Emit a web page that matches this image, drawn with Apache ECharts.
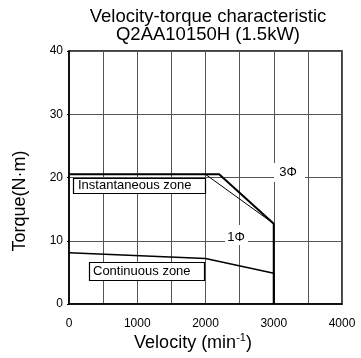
<!DOCTYPE html>
<html><head><meta charset="utf-8">
<script src="https://cdn.jsdelivr.net/npm/echarts@6/dist/echarts.min.js"></script>
<style>html,body{margin:0;padding:0;background:#fff}#c{width:361px;height:358px}</style>
</head><body><div id="c"></div>
<script>
const xTicks = [0, 1000, 2000, 3000, 4000];
const yTicks = [0, 10, 20, 30, 40];
const instant3Phase = [[0, 20.5], [2200, 20.5], [3000, 12.7], [3000, 0]];
const instant1Phase = [[2000, 20.5], [3000, 12.7]];
const continuous = [[0, 8.1], [2000, 7.2], [3000, 4.85], [3000, 0]];

const F = 'Liberation Sans, Arial, sans-serif';
const chart = echarts.init(document.getElementById('c'), null, {renderer: 'canvas'});
const option = {
  animation: false,
  backgroundColor: '#fff',
  title: {
    text: 'Velocity-torque characteristic\nQ2AA10150H (1.5kW)',
    left: 203, top: 3, textAlign: 'center',
    textStyle: {fontFamily: F, fontSize: 18.5, fontWeight: 'normal', color: '#000', lineHeight: 18}
  },
  grid: {left: 69, right: 19, top: 51, bottom: 54, show: true, borderColor: '#000', borderWidth: 1.5},
  xAxis: {
    type: 'value', min: 0, max: 4000, interval: 500,
    axisLine: {show: true, lineStyle: {color: '#000', width: 1.5}},
    axisTick: {show: false},
    splitLine: {show: true, lineStyle: {color: '#555', width: 1}},
    axisLabel: {
      fontFamily: F, fontSize: 12, color: '#000', margin: 14,
      formatter: v => (xTicks.indexOf(v) >= 0 ? String(v) : '')
    }
  },
  yAxis: {
    type: 'value', min: 0, max: 40, interval: 10,
    axisLine: {show: true, lineStyle: {color: '#000', width: 1.5}},
    axisTick: {show: true, length: 2, inside: false, lineStyle: {color: '#000'}},
    splitLine: {show: true, lineStyle: {color: '#555', width: 1}},
    axisLabel: {
      fontFamily: F, fontSize: 12, color: '#000', margin: 6,
      formatter: v => (yTicks.indexOf(v) >= 0 ? String(v) : '')
    }
  },
  series: [
    {type: 'line', data: instant3Phase, symbol: 'none', z: 5,
     lineStyle: {color: '#000', width: 2}},
    {type: 'line', data: instant1Phase, symbol: 'none', z: 5,
     lineStyle: {color: '#000', width: 1}},
    {type: 'line', data: continuous, symbol: 'none', z: 5,
     lineStyle: {color: '#000', width: 1.6}}
  ],
  graphic: [
    {type: 'rect', shape: {x: 73.5, y: 178.5, width: 132, height: 15}, z: 100,
     style: {fill: '#fff', stroke: '#000', lineWidth: 1.2}},
    {type: 'text', left: 78, top: 179, z: 101,
     style: {text: 'Instantaneous zone', font: '13px ' + F, fill: '#000'}},
    {type: 'rect', shape: {x: 89.5, y: 262.5, width: 115, height: 18}, z: 100,
     style: {fill: '#fff', stroke: '#000', lineWidth: 1.2}},
    {type: 'text', left: 93, top: 265, z: 101,
     style: {text: 'Continuous zone', font: '13px ' + F, fill: '#000'}},
    {type: 'rect', shape: {x: 274, y: 163, width: 31, height: 19}, z: 99,
     style: {fill: '#fff'}},
    {type: 'text', x: 288, y: 172, z: 101,
     style: {text: '3Φ', font: '13px ' + F, fill: '#000', align: 'center', verticalAlign: 'middle'}},
    {type: 'rect', shape: {x: 225, y: 225, width: 23, height: 20}, z: 99,
     style: {fill: '#fff'}},
    {type: 'text', x: 236, y: 237, z: 101,
     style: {text: '1Φ', font: '13px ' + F, fill: '#000', align: 'center', verticalAlign: 'middle'}},
    {type: 'text', x: 20, y: 201, rotation: Math.PI / 2, z: 101,
     style: {text: 'Torque(N·m)', font: '18px ' + F, fill: '#000', align: 'center', verticalAlign: 'middle'}},
    {type: 'text', x: 193, y: 343, z: 101,
     style: {
       text: '{n|Velocity (min}{s|-1}{n|)}',
       align: 'center', verticalAlign: 'middle',
       rich: {
         n: {fontFamily: F, fontSize: 18, color: '#000'},
         s: {fontFamily: F, fontSize: 11, color: '#000', padding: [0, 0, 10, 0]}
       }
     }}
  ]
};
chart.setOption(option);
</script>
</body></html>
